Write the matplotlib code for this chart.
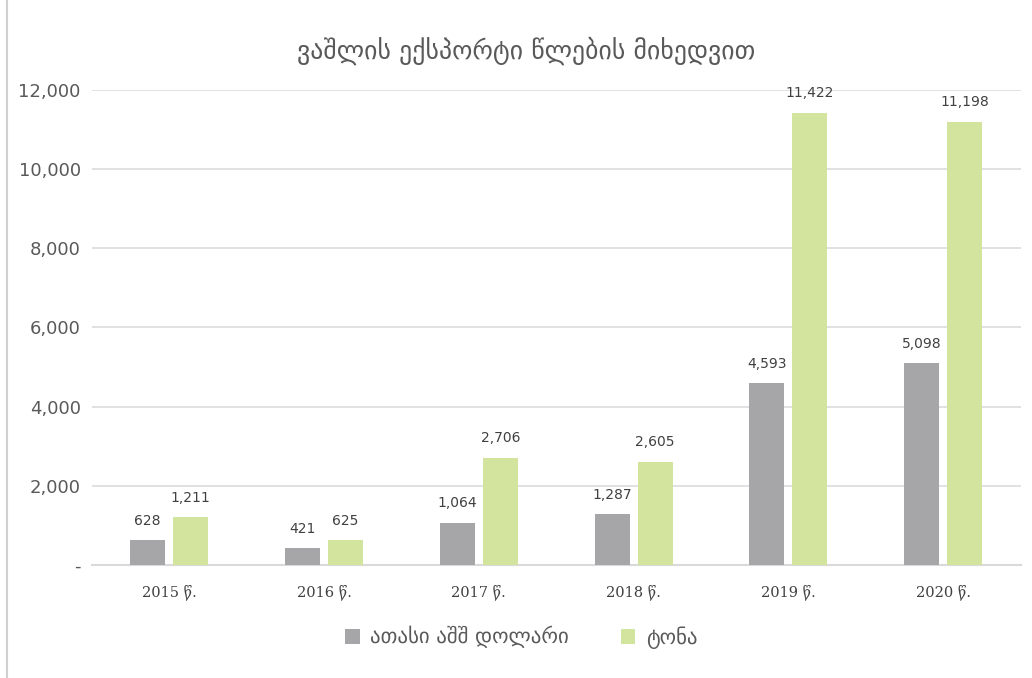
"""Apple export by year bar chart."""

import matplotlib

matplotlib.use("Agg")

import matplotlib.pyplot as plt
import numpy as np
from matplotlib.lines import Line2D
from matplotlib.ticker import FuncFormatter

years = ["2015 წ.", "2016 წ.", "2017 წ.", "2018 წ.", "2019 წ.", "2020 წ."]
usd_thousand = [628, 421, 1064, 1287, 4593, 5098]
tonnes = [1211, 625, 2706, 2605, 11422, 11198]
series_names = ["ათასი აშშ დოლარი", "ტონა"]
title = "ვაშლის ექსპორტი წლების მიხედვით"

GRAY = "#a6a6a8"
GREEN = "#d2e49e"
TEXT = "#595959"

plt.rcParams["font.family"] = ["DejaVu Sans"]

fig = plt.figure(figsize=(10.32, 6.78), dpi=100)
ax = fig.add_axes([0.089, 0.1667, 0.9, 0.7006])

x = np.arange(len(years))
width = 0.226
offset = 0.139

b1 = ax.bar(x - offset, usd_thousand, width, color=GRAY, label=series_names[0], zorder=3)
b2 = ax.bar(x + offset, tonnes, width, color=GREEN, label=series_names[1], zorder=3)

for bars, vals in ((b1, usd_thousand), (b2, tonnes)):
    for rect, v in zip(bars, vals):
        ax.annotate(f"{v:,}", (rect.get_x() + rect.get_width() / 2, v),
                    xytext=(0, 9), textcoords="offset points",
                    ha="center", va="bottom", fontsize=10, color="#404040")

ax.set_xlim(-0.5, len(years) - 0.5)
ax.set_ylim(0, 12000)
ax.set_yticks(np.arange(0, 12001, 2000))
ax.yaxis.set_major_formatter(FuncFormatter(lambda v, p: "-" if v == 0 else f"{v:,.0f}"))
ax.set_xticks(x)
ax.set_xticklabels(years, family=["DejaVu Serif", "DejaVu Sans"], fontsize=10.5, color="#404040")
ax.tick_params(axis="y", length=0, labelsize=13, labelcolor=TEXT, pad=8)
ax.tick_params(axis="x", length=0, pad=14)

ax.grid(axis="y", color="#dedede", linewidth=1.3, zorder=0)
for side in ("top", "right", "left"):
    ax.spines[side].set_visible(False)
ax.spines["bottom"].set_color("#d9d9d9")
ax.spines["bottom"].set_linewidth(1.5)

fig.text(0.51, 0.925, title, ha="center", va="center", fontsize=18.5, color=TEXT)

fig.legend(handles=[b1, b2], loc="center", bbox_to_anchor=(0.505, 0.06), ncol=2,
           frameon=False, fontsize=15, labelcolor=TEXT, handlelength=0.7,
           handleheight=0.7, handletextpad=0.5, columnspacing=2.5)

fig.add_artist(Line2D([0.007, 0.007], [0, 1], transform=fig.transFigure,
                      color="#d0d0d0", linewidth=1.5))

fig.savefig("out.png", dpi=100)
